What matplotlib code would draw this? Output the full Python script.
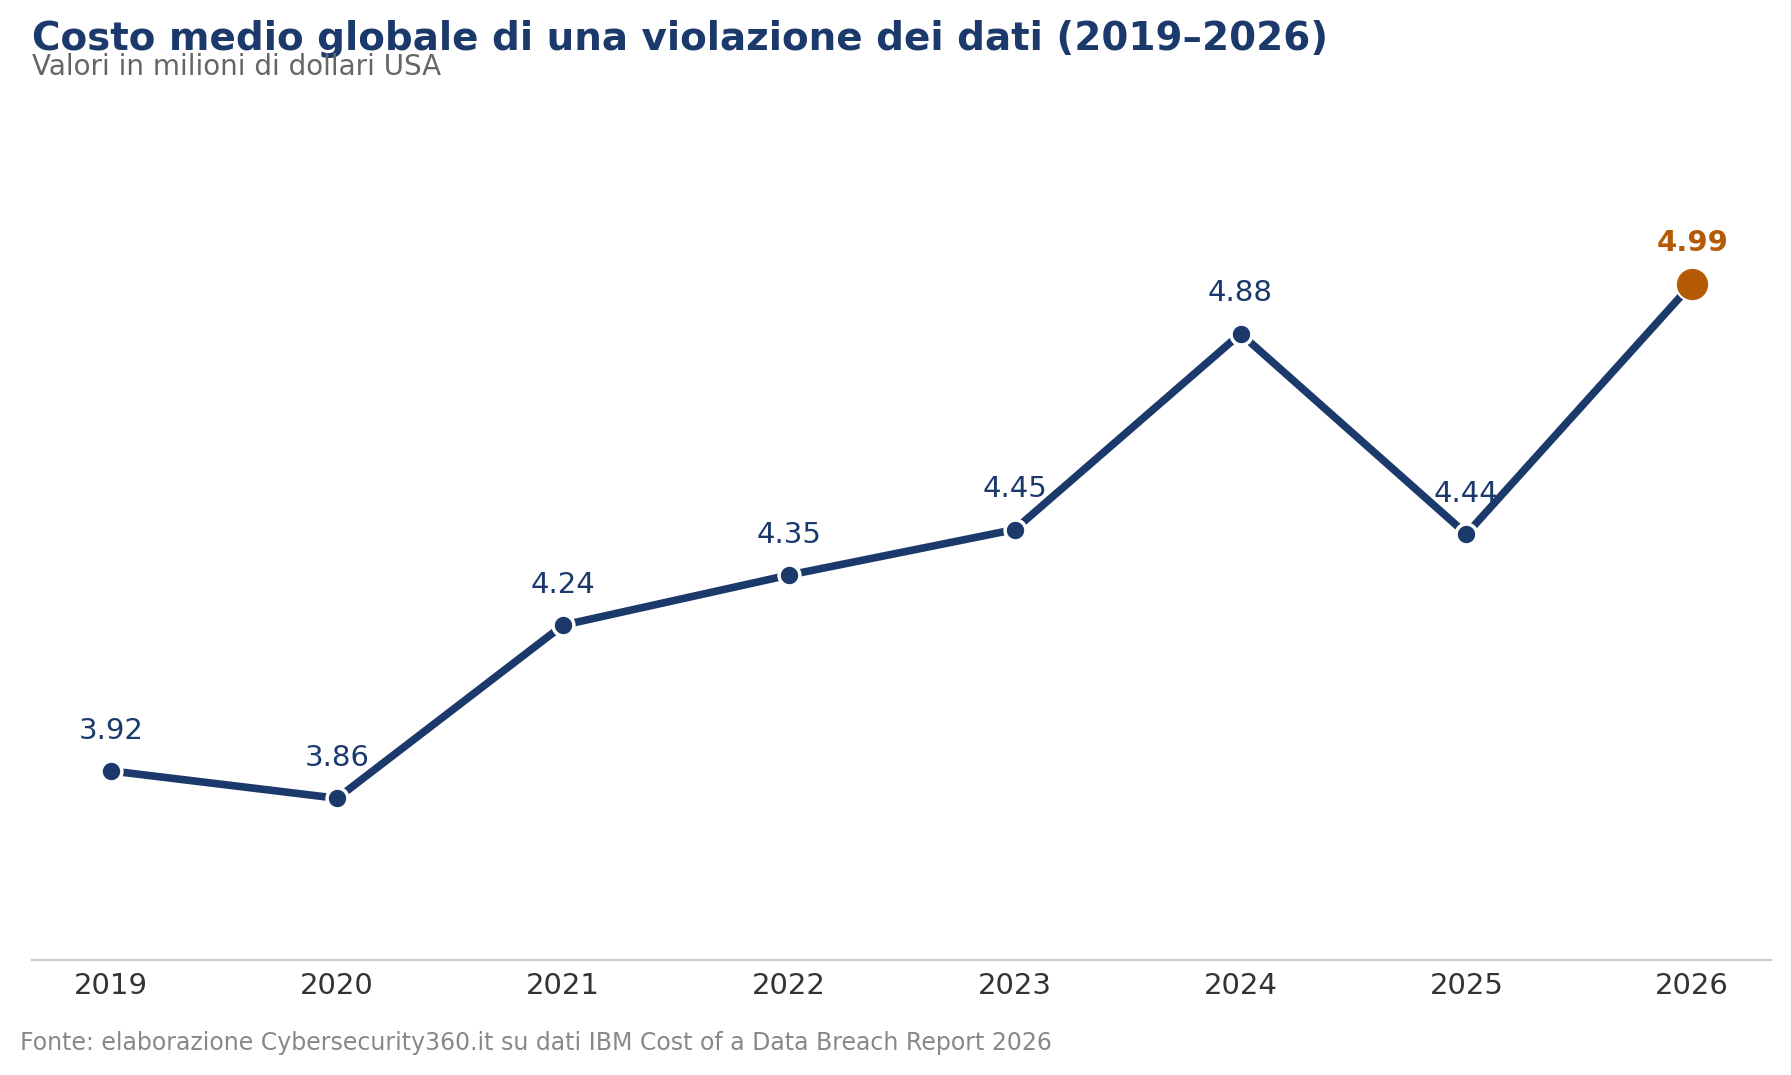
import matplotlib.pyplot as plt

years = [2019, 2020, 2021, 2022, 2023, 2024, 2025, 2026]
costs = [3.92, 3.86, 4.24, 4.35, 4.45, 4.88, 4.44, 4.99]
labels = ["3.92", "3.86", "4.24", "4.35", "4.45", "4.88", "4.44", "4.99"]

NAVY = "#1b3a6b"
ORANGE = "#b45a04"

fig = plt.figure(figsize=(17.91, 10.75), dpi=100)
ax = fig.add_axes([0.018, 0.107, 0.971, 0.786])

# main line + markers (last point highlighted)
ax.plot(years, costs, color=NAVY, lw=5.5, zorder=2)
ax.plot(years[:-1], costs[:-1], "o", color=NAVY, ms=15,
        markeredgecolor="white", markeredgewidth=2.5, zorder=3)
ax.plot(years[-1:], costs[-1:], "o", color=ORANGE, ms=24,
        markeredgecolor="white", markeredgewidth=1.5, zorder=4)

for i, (x, y) in enumerate(zip(years, costs)):
    last = i == len(years) - 1
    ax.annotate(labels[i], (x, y), xytext=(0, 29), textcoords="offset points",
                ha="center", va="center", fontsize=21,
                color=ORANGE if last else NAVY,
                fontweight="bold" if last else "normal")

ax.set_xlim(2018.65, 2026.35)
ax.set_ylim(3.505, 5.36)
ax.set_xticks(years)
ax.set_xticklabels([str(y) for y in years])
ax.tick_params(axis="x", length=0, pad=9, labelsize=21, labelcolor="#333333")
ax.set_yticks([])
for s in ["top", "right", "left"]:
    ax.spines[s].set_visible(False)
ax.spines["bottom"].set_color("#c8c8c8")
ax.spines["bottom"].set_linewidth(1.5)

fig.text(0.018, 0.981, "Costo medio globale di una violazione dei dati (2019–2026)",
         fontsize=28, fontweight="bold", color=NAVY, ha="left", va="top")
fig.text(0.018, 0.938, "Valori in milioni di dollari USA",
         fontsize=20, color="#666666", ha="left", va="center")
fig.text(0.011, 0.03, "Fonte: elaborazione Cybersecurity360.it su dati IBM Cost of a Data Breach Report 2026",
         fontsize=17, color="#888888", ha="left", va="center")

fig.savefig("out.png", dpi=100)
